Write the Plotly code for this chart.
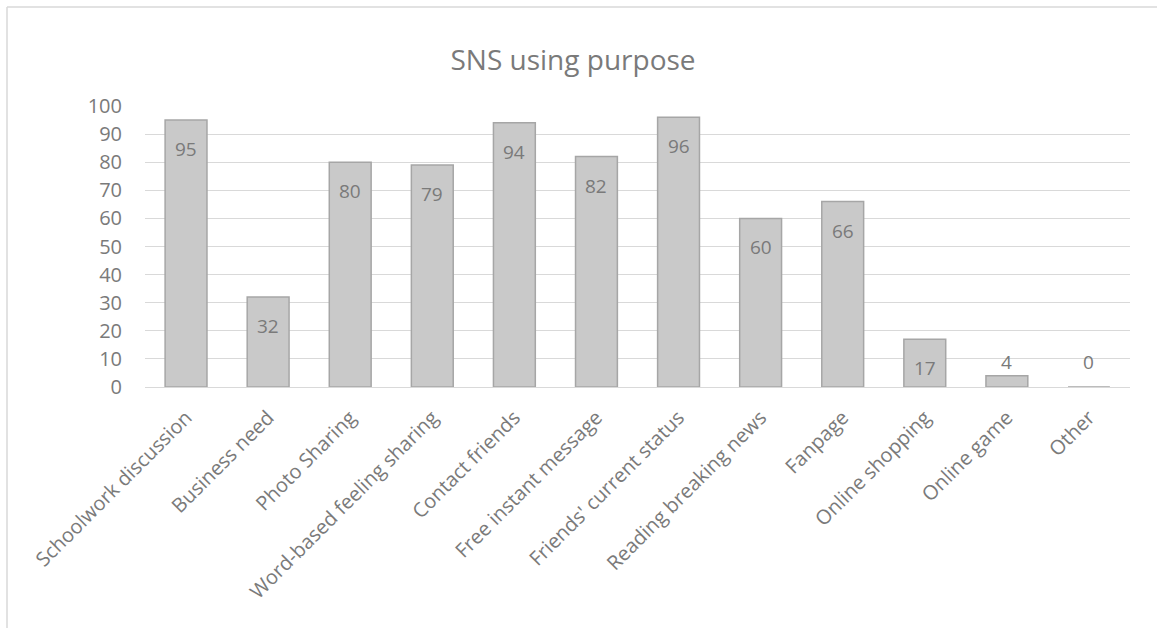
import plotly.graph_objects as go

categories = ["Schoolwork discussion", "Business need", "Photo Sharing",
              "Word-based feeling sharing", "Contact friends", "Free instant message",
              "Friends' current status", "Reading breaking news", "Fanpage",
              "Online shopping", "Online game", "Other"]
values = [95, 32, 80, 79, 94, 82, 96, 60, 66, 17, 4, 0]
y_ticks = [0, 10, 20, 30, 40, 50, 60, 70, 80, 90, 100]

FONT = "Open Sans"
TXT = "#7a7a7a"

fig = go.Figure()
fig.add_trace(go.Bar(
    x=categories, y=values,
    marker=dict(color="#c9c9c9", line=dict(color="#a6a6a6", width=1.5)),
    width=0.51, hoverinfo="x+y",
))

annotations = []
for c, v in zip(categories, values):
    if v >= 10:
        annotations.append(dict(x=c, y=v, text=str(v), showarrow=False,
                                yanchor="top", yshift=-14,
                                font=dict(family=FONT, size=19, color=TXT)))
    else:
        annotations.append(dict(x=c, y=0, text=str(v), showarrow=False,
                                yanchor="middle", yshift=25,
                                font=dict(family=FONT, size=19, color=TXT)))

fig.update_layout(
    width=1157, height=628,
    margin=dict(l=145, r=27, t=106, b=241, autoexpand=False),
    paper_bgcolor="white", plot_bgcolor="white",
    showlegend=False,
    title=dict(text="SNS using purpose", x=573 / 1157, xanchor="center",
               y=1 - 60 / 628, yanchor="middle", xref="container",
               font=dict(family=FONT, size=28, color=TXT)),
    font=dict(family=FONT, color=TXT),
    annotations=annotations,
    shapes=[dict(type="line", xref="paper", yref="paper",
                 x0=(7 - 145) / 985, x1=1.2, y0=(387 - 7) / 281, y1=(387 - 7) / 281,
                 line=dict(color="#d9d9d9", width=1.5)),
            dict(type="line", xref="paper", yref="paper",
                 x0=(7 - 145) / 985, x1=(7 - 145) / 985, y0=(387 - 7) / 281, y1=-1.2,
                 line=dict(color="#d9d9d9", width=1.5))],
)
fig.update_xaxes(tickangle=-45, tickfont=dict(family=FONT, size=20, color=TXT),
                 showgrid=False, showline=False, ticks="", automargin=False,
                 ticklabelstandoff=14)
fig.update_yaxes(range=[0, 100], tickvals=y_ticks,
                 tickfont=dict(family=FONT, size=20, color=TXT),
                 showgrid=True, gridcolor="#d9d9d9", gridwidth=1,
                 zeroline=True, zerolinecolor="#d9d9d9", zerolinewidth=1,
                 ticklabelstandoff=22, automargin=False, fixedrange=True)

fig.write_html("out.html")
